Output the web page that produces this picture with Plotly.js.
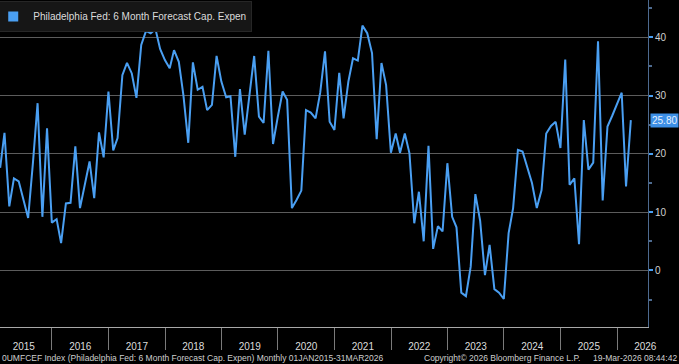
<!DOCTYPE html>
<html><head><meta charset="utf-8">
<script src="https://cdn.plot.ly/plotly-3.0.1.min.js"></script>
<style>html,body{margin:0;padding:0;background:#000;}#chart{width:679px;height:364px;}</style>
</head><body><div id="chart"></div>
<script>
const seriesName = 'Philadelphia Fed: 6 Month Forecast Cap. Expen';
const startYear = 2015;
const startMonth = 1;
const values = [
  17.6, 23.6, 11.0, 15.8, 15.3, 12.0, 9.0, 18.5, 28.7, 9.2, 24.4, 8.2,
  8.8, 4.7, 11.5, 11.6, 21.3, 10.7, 14.5, 18.7, 12.4, 23.7, 19.4, 30.7,
  20.6, 22.7, 33.5, 35.6, 33.8, 29.6, 38.7, 41.1, 40.7, 41.4, 38.0, 36.1,
  34.7, 37.8, 35.8, 30.0, 21.9, 35.7, 31.0, 31.5, 27.5, 28.4, 36.8, 32.4,
  29.7, 29.9, 19.5, 31.1, 23.3, 30.1, 36.8, 26.4, 25.3, 37.7, 21.7, 26.4,
  30.7, 29.3, 10.7, 12.1, 13.7, 27.5, 27.1, 26.1, 30.5, 37.6, 25.5, 24.1,
  33.9, 26.1, 32.4, 36.4, 36.0, 42.0, 40.7, 37.3, 22.5, 35.6, 31.8, 20.2,
  23.5, 20.2, 23.5, 20.1, 8.1, 13.5, 5.0, 21.4, 3.7, 7.6, 6.7, 18.4,
  9.2, 7.4, -3.8, -4.4, 0.7, 13.1, 8.5, -0.8, 4.4, -3.2, -3.8, -4.9,
  6.4, 10.7, 20.7, 20.4, 17.8, 15.0, 10.7, 13.8, 23.5, 24.8, 25.5, 21.0,
  36.2, 14.7, 15.8, 4.5, 25.8, 17.3, 18.5, 39.3, 12.0, 24.7, 26.5, 28.6,
  30.5, 14.4, 25.8
];
const footerLeft = '0UMFCEF Index (Philadelphia Fed: 6 Month Forecast Cap. Expen) Monthly 01JAN2015-31MAR2026';
const footerMid = 'Copyright\u00A9 2026 Bloomberg Finance L.P.';
const footerRight = '19-Mar-2026 08:44:42';

function monthEnd(i) {
  const y = startYear + Math.floor((startMonth - 1 + i) / 12);
  const m = (startMonth - 1 + i) % 12;
  return new Date(Date.UTC(y, m + 1, 0)).toISOString().slice(0, 10);
}
const dates = values.map((_, i) => monthEnd(i));
const last = values[values.length - 1];

const FONT = 'Liberation Sans, Arial, sans-serif';
const BLUE = '#4a9ff2';

const traces = [
  {x: dates, y: values, type: 'scatter', mode: 'lines', line: {color: BLUE, width: 2},
   showlegend: false, hoverinfo: 'skip'},
  {x: [null], y: [null], type: 'scatter', mode: 'markers', name: seriesName,
   marker: {symbol: 'square', size: 10, color: BLUE}, showlegend: true, hoverinfo: 'skip'}
];

const layout = {
  width: 679, height: 364,
  margin: {l: 0, r: 31, t: 0, b: 37, pad: 0, autoexpand: false},
  paper_bgcolor: '#000', plot_bgcolor: '#000',
  font: {family: FONT, color: '#d8d8d8', size: 10},
  showlegend: true,
  legend: {x: -0.012, y: 0.997, xanchor: 'left', yanchor: 'top', bgcolor: '#161616',
           bordercolor: '#262626', borderwidth: 1, font: {size: 10, color: '#dcdcdc', family: FONT}},
  xaxis: {
    type: 'date', range: ['2015-01-30', '2026-07-20'],
    dtick: 'M12', tick0: '2015-01-01', ticklabelmode: 'period', tickformat: '%Y',
    ticks: 'outside', ticklen: 22, tickcolor: '#7a7a7a', tickwidth: 1,
    ticklabelstandoff: -12,
    showgrid: false, zeroline: false, showline: true, linecolor: '#a8a8a8', linewidth: 1,
    tickfont: {family: FONT, size: 10, color: '#dcdcdc'}, fixedrange: true
  },
  yaxis: {
    side: 'right', range: [-9.7, 46.4], dtick: 10, tick0: 0,
    ticks: 'outside', ticklen: 4, tickwidth: 2, tickcolor: BLUE,
    showline: true, linecolor: '#4d6a8f', linewidth: 1,
    showgrid: true, gridcolor: '#5c5c5c', gridwidth: 1, zeroline: false,
    minor: {dtick: 5, tick0: 0, ticks: 'outside', ticklen: 3, tickcolor: '#4d6a8f', showgrid: false},
    tickfont: {family: FONT, size: 10, color: '#d0d0d0'}, fixedrange: true
  },
  annotations: [
    {xref: 'paper', x: 1, xanchor: 'left', xshift: 2, yref: 'y', y: last, yanchor: 'middle',
     text: last.toFixed(2), showarrow: false, bgcolor: '#3d8fe6', borderpad: 1,
     font: {family: FONT, size: 10, color: '#e6f1ff'}},
    {xref: 'paper', x: 0, xanchor: 'left', yref: 'paper', y: 0, yanchor: 'top', yshift: -24,
     text: footerLeft, showarrow: false, font: {family: FONT, size: 8.5, color: '#cfcfcf'}},
    {xref: 'paper', x: 0.652, xanchor: 'left', yref: 'paper', y: 0, yanchor: 'top', yshift: -24,
     text: footerMid, showarrow: false, font: {family: FONT, size: 8.5, color: '#cfcfcf'}},
    {xref: 'paper', x: 1, xanchor: 'right', xshift: 31, yref: 'paper', y: 0, yanchor: 'top', yshift: -24,
     text: footerRight, showarrow: false, font: {family: FONT, size: 8.5, color: '#cfcfcf'}}
  ]
};

Plotly.newPlot('chart', traces, layout, {displayModeBar: false, staticPlot: true});
</script>
</body></html>
